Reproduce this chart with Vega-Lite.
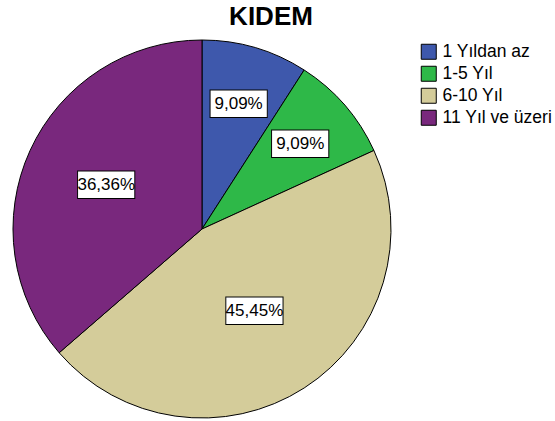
{
  "$schema": "https://vega.github.io/schema/vega-lite/v6.json",
  "width": 404,
  "height": 378,
  "autosize": "none",
  "padding": {"left": 0, "top": 40, "right": 151, "bottom": 3},
  "background": "white",
  "title": {"text": "KIDEM", "font": "Liberation Sans", "fontSize": 26, "fontWeight": "bold", "color": "black", "anchor": "middle", "dx": 69, "offset": 8},
  "config": {
    "view": {"stroke": null},
    "locale": {"number": {"decimal": ",", "thousands": ".", "grouping": [3], "currency": ["", " TL"]}}
  },
  "data": {
    "values": [
      {"kidem": "1 Yıldan az", "sira": 1, "yuzde": 0.0909},
      {"kidem": "1-5 Yıl", "sira": 2, "yuzde": 0.0909},
      {"kidem": "6-10 Yıl", "sira": 3, "yuzde": 0.4545},
      {"kidem": "11 Yıl ve üzeri", "sira": 4, "yuzde": 0.3636}
    ]
  },
  "encoding": {
    "theta": {"field": "yuzde", "type": "quantitative", "stack": true},
    "order": {"field": "sira", "type": "quantitative"}
  },
  "layer": [
    {
      "mark": {"type": "arc", "stroke": "black", "strokeWidth": 1},
      "encoding": {
        "color": {
          "field": "kidem", "type": "nominal",
          "sort": ["1 Yıldan az", "1-5 Yıl", "6-10 Yıl", "11 Yıl ve üzeri"],
          "scale": {"domain": ["1 Yıldan az", "1-5 Yıl", "6-10 Yıl", "11 Yıl ve üzeri"], "range": ["#3E58AC", "#2EB848", "#D4CC9A", "#79287D"]},
          "legend": {
            "title": null, "orient": "none", "legendX": 420, "legendY": 3, "padding": 0,
            "symbolType": "square", "symbolSize": 225, "symbolStrokeColor": "black", "symbolStrokeWidth": 1, "symbolOpacity": 1,
            "labelFont": "Liberation Sans", "labelFontSize": 17.5, "labelColor": "black", "labelOffset": 5, "rowPadding": 2
          }
        }
      }
    },
    {
      "mark": {"type": "text", "text": "▬", "font": "DejaVu Sans", "fontSize": 75, "dy": -4, "align": "center", "baseline": "middle", "fill": "white", "stroke": "black", "strokeWidth": 1},
      "encoding": {
        "detail": {"field": "kidem", "type": "nominal"},
        "radius": {"field": "yuzde", "type": "quantitative", "scale": {"type": "linear", "zero": false, "domain": [0.0909, 0.4545], "range": [130, 97]}}
      }
    },
    {
      "mark": {"type": "text", "font": "Liberation Sans", "fontSize": 17, "align": "center", "baseline": "middle", "color": "black"},
      "encoding": {
        "detail": {"field": "kidem", "type": "nominal"},
        "radius": {"field": "yuzde", "type": "quantitative", "scale": {"type": "linear", "zero": false, "domain": [0.0909, 0.4545], "range": [130, 97]}},
        "text": {"field": "yuzde", "type": "quantitative", "format": ".2%"}
      }
    }
  ]
}
